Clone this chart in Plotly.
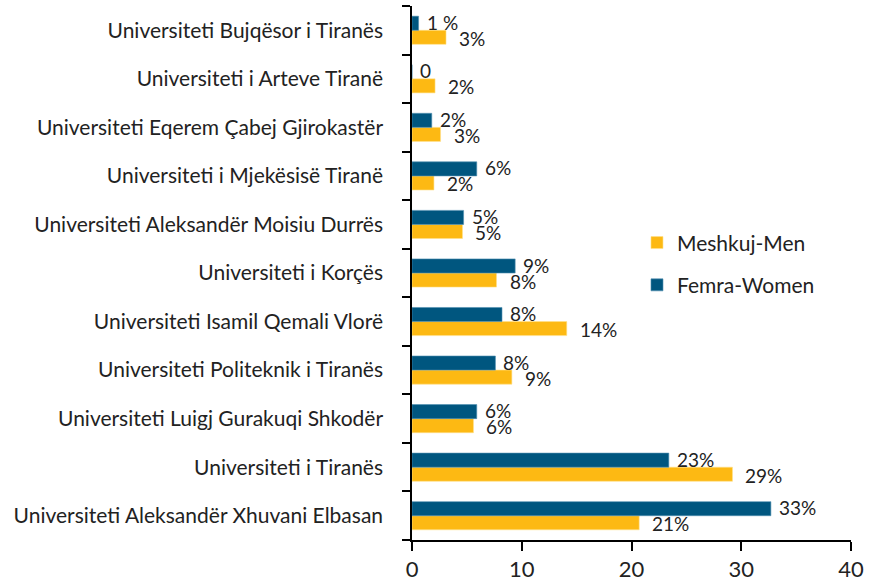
import plotly.graph_objects as go

WOMEN_COLOR = "#00567F"
MEN_COLOR = "#FDB913"
INK = "#222222"
FONT = "Lato, 'Open Sans', sans-serif"

# bottom -> top
universities = [
    "Universiteti Aleksandër Xhuvani Elbasan",
    "Universiteti i Tiranës",
    "Universiteti Luigj Gurakuqi Shkodër",
    "Universiteti Politeknik i Tiranës",
    "Universiteti Isamil Qemali Vlorë",
    "Universiteti i Korçës",
    "Universiteti Aleksandër Moisiu Durrës",
    "Universiteti i Mjekësisë Tiranë",
    "Universiteti Eqerem Çabej Gjirokastër",
    "Universiteti i Arteve Tiranë",
    "Universiteti Bujqësor i Tiranës",
]
men = [20.7, 29.2, 5.6, 9.1, 14.1, 7.7, 4.6, 2.0, 2.6, 2.1, 3.1]
women = [32.7, 23.4, 5.9, 7.6, 8.2, 9.4, 4.7, 5.9, 1.8, 0.0, 0.6]
men_labels = ["21%", "29%", "6%", "9%", "14%", "8%", "5%", "2%", "3%", "2%", "3%"]
women_labels = ["33%", "23%", "6%", "8%", "8%", "9%", "5%", "6%", "2%", "0", "1 %"]
x_ticks = [0, 10, 20, 30, 40]

fig = go.Figure()
fig.add_bar(y=universities, x=men, orientation="h", name="Meshkuj-Men",
            marker=dict(color=MEN_COLOR, line=dict(color="#FFE08A", width=0.6)),
            legendgroup="m")
fig.add_bar(y=universities, x=women, orientation="h", name="Femra-Women",
            marker=dict(color=WOMEN_COLOR, line=dict(color="#4F8FB0", width=0.6)),
            legendgroup="w")

# value labels just past the bar ends
for i, uni in enumerate(universities):
    fig.add_annotation(x=women[i], y=uni, text=women_labels[i], showarrow=False,
                       xanchor="left", yanchor="middle", xshift=6, yshift=8,
                       font=dict(size=19, color=INK, family=FONT))
    fig.add_annotation(x=men[i], y=uni, text=men_labels[i], showarrow=False,
                       xanchor="left", yanchor="middle", xshift=11, yshift=-8,
                       font=dict(size=19, color=INK, family=FONT))

fig.update_layout(
    width=869, height=585, template="simple_white",
    barmode="group", bargap=0.42, bargroupgap=0,
    margin=dict(l=412, r=18, t=6, b=45, autoexpand=False),
    font=dict(family=FONT, size=21, color=INK),
    plot_bgcolor="white", paper_bgcolor="white",
    legend=dict(x=0.5125, y=0.517, xanchor="left", yanchor="middle",
                font=dict(size=21, color=INK), tracegroupgap=12,
                bgcolor="rgba(0,0,0,0)"),
    xaxis=dict(range=[0, 40], tickvals=x_ticks, showgrid=False,
               showline=True, linecolor="#000", linewidth=1.5,
               ticks="outside", ticklen=9, tickcolor="#000", tickwidth=1.5,
               tickfont=dict(size=22, color=INK), zeroline=False,
               automargin=False),
    yaxis=dict(showgrid=False, showline=True, linecolor="#000", linewidth=1.5,
               ticks="outside", ticklen=8, tickcolor="#000", tickwidth=1.5,
               tickson="boundaries", tickfont=dict(size=21, color=INK),
               ticklabelstandoff=23, automargin=False),
)

# drop the browser's default 8px body margin so the figure sits at the page corner
fig.write_html("out.html", config={"displayModeBar": False},
               post_script="document.body.style.margin='0';")
